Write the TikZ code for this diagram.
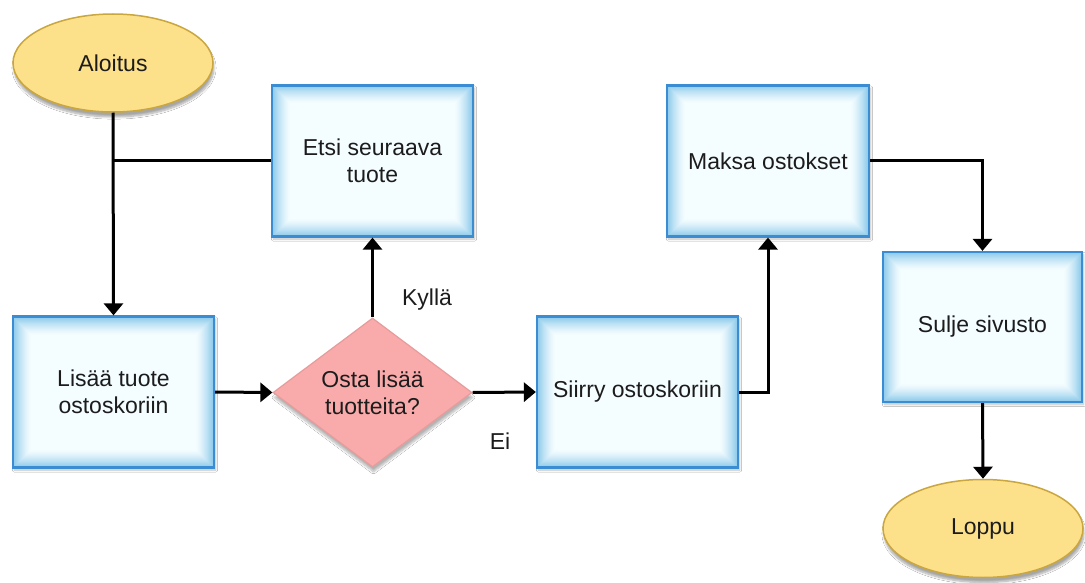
\documentclass[tikz,border=0pt]{standalone}
\usepackage{fontspec}
\setmainfont{Liberation Sans}
\usetikzlibrary{shapes.geometric,arrows.meta,shadows.blur}

\definecolor{boxline}{HTML}{3A8DD2}
\definecolor{boxedge}{HTML}{8CC9EB}
\definecolor{boxcore}{HTML}{F4FDFF}
\definecolor{termfill}{HTML}{FDE08A}
\definecolor{termline}{HTML}{C9A63E}
\definecolor{decfill}{HTML}{F9ABAB}
\definecolor{decline}{HTML}{E79B9B}
\definecolor{ink}{HTML}{1C1C1C}

\tikzset{
  every node/.style={text=ink, font=\fontsize{23}{27}\selectfont},
  glowbox/.style={rectangle, draw=boxline, line width=2.2pt, inner sep=0pt,
    minimum width=201pt, minimum height=151pt, align=center,
    blur shadow={shadow xshift=1.5pt, shadow yshift=-2.5pt, shadow opacity=25, shadow blur steps=6},
    path picture={
      \foreach \k in {0,...,18}{
        \pgfmathsetmacro{\pc}{100*(1-\k/18)^1.4}
        \fill[boxedge!\pc!boxcore]
          ([xshift=\k pt, yshift=-\k pt]path picture bounding box.north west) rectangle
          ([xshift=-\k pt, yshift=\k pt]path picture bounding box.south east);
      }
    }},
  terminal/.style={ellipse, draw=termline, fill=termfill, line width=1.5pt, inner sep=0pt,
    minimum width=200pt, minimum height=98pt,
    blur shadow={shadow xshift=1pt, shadow yshift=-5pt, shadow opacity=35, shadow blur steps=8}},
  decision/.style={diamond, draw=decline, fill=decfill, line width=1.2pt, inner sep=0pt,
    minimum width=199pt, minimum height=149pt,
    blur shadow={shadow xshift=1pt, shadow yshift=-5pt, shadow opacity=30, shadow blur steps=8}},
  flow/.style={draw=black, line width=3pt},
  arr/.style={flow, -{Triangle[width=19pt,length=12pt]}},
  lbl/.style={inner sep=0pt}
}

\begin{document}
\begin{tikzpicture}[x=1pt, y=-1pt]
  \useasboundingbox (0,0) rectangle (1085,583);
  \fill[white] (0,0) rectangle (1085,583);

  % terminals
  \node[terminal] (start) at (113,63) {Aloitus};
  \node[terminal] (loppu) at (983,528.5) {Loppu};

  % process steps
  \node[glowbox] (etsi)   at (372.5,161) {Etsi seuraava\\tuote};
  \node[glowbox] (lisaa)  at (113.5,392) {Lisää tuote\\ostoskoriin};
  \node[glowbox] (siirry) at (637.5,392) {Siirry ostoskoriin};
  \node[glowbox, minimum width=202pt] (maksa) at (768,161) {Maksa ostokset};
  \node[glowbox, minimum width=199pt, minimum height=150pt] (sulje) at (982.5,327) {Sulje sivusto};

  % decision
  \node[decision] (osta) at (372.5,392.5) {};
  \node[align=center, inner sep=0pt] (ostatext) at (osta) {Osta lisää\\tuotteita?};

  % branch labels
  \node[lbl] (kylla) at (427,300) {Kyllä};
  \node[lbl] (ei) at (500,441) {Ei};

  % connectors
  \draw[arr] (start.south) -- (lisaa.north);
  \draw[flow] (etsi.west) -- (etsi.west -| start.south);
  \draw[arr] (lisaa.east) -- (osta.west);
  \draw[arr] (osta.north) -- (etsi.south);
  \draw[arr] (osta.east) -- (siirry.west);
  \draw[arr] (siirry.east) -| (maksa.south);
  \draw[arr] (maksa.east) -| (sulje.north);
  \draw[arr] (sulje.south) -- (loppu.north);
\end{tikzpicture}
\end{document}
